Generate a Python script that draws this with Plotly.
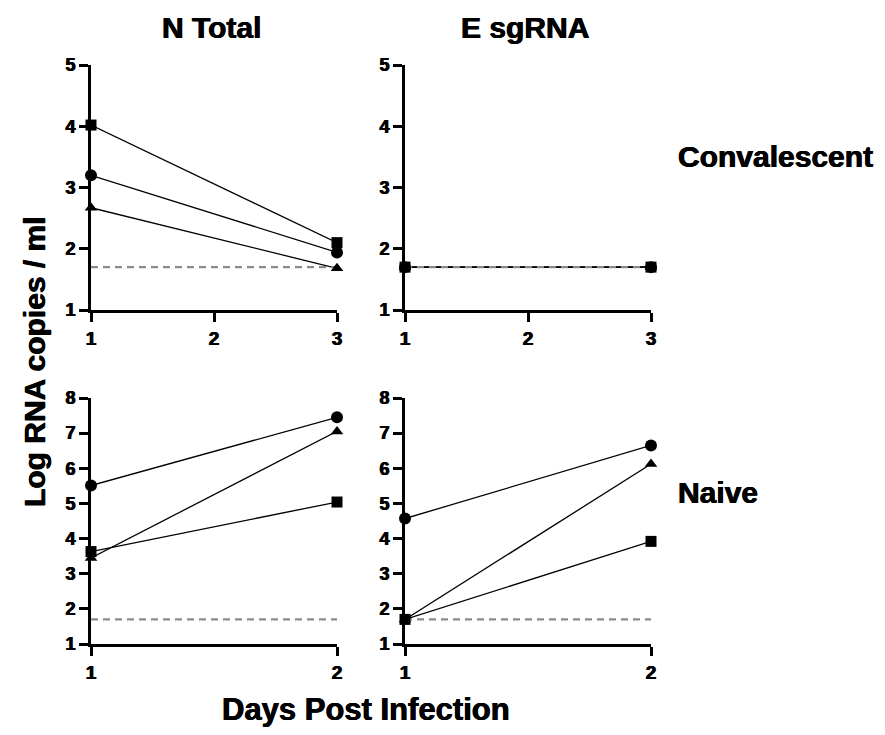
import plotly.graph_objects as go

# ---- data ----
days_conv = [1, 3]
days_naive = [1, 2]
lod = 1.7

# N Total, Convalescent
nt_conv_square = [4.02, 2.10]
nt_conv_circle = [3.20, 1.94]
nt_conv_triangle = [2.67, 1.68]
# E sgRNA, Convalescent
es_conv_square = [1.70, 1.70]
es_conv_circle = [1.70, 1.70]
es_conv_triangle = [1.70, 1.70]
# N Total, Naive
nt_naive_circle = [5.51, 7.45]
nt_naive_triangle = [3.45, 7.05]
nt_naive_square = [3.63, 5.04]
# E sgRNA, Naive
es_naive_circle = [4.57, 6.65]
es_naive_triangle = [1.70, 6.12]
es_naive_square = [1.70, 3.92]

col_titles = ["N Total", "E sgRNA"]
row_titles = ["Convalescent", "Naive"]
y_title = "Log RNA copies / ml"
x_title = "Days Post Infection"

W, H = 885, 735
BOLD = "Liberation Sans"
HEAVY = "0.45px 0 0 black, -0.45px 0 0 black"

fig = go.Figure()

panels = [
    ("x", "y", days_conv, [("square", nt_conv_square), ("circle", nt_conv_circle), ("triangle-up", nt_conv_triangle)]),
    ("x2", "y2", days_conv, [("triangle-up", es_conv_triangle), ("circle", es_conv_circle), ("square", es_conv_square)]),
    ("x3", "y3", days_naive, [("circle", nt_naive_circle), ("triangle-up", nt_naive_triangle), ("square", nt_naive_square)]),
    ("x4", "y4", days_naive, [("circle", es_naive_circle), ("triangle-up", es_naive_triangle), ("square", es_naive_square)]),
]

for xa, ya, days, series in panels:
    for sym, vals in series:
        fig.add_trace(go.Scatter(
            x=days, y=vals, xaxis=xa, yaxis=ya, mode="lines",
            line=dict(color="black", width=1.3), showlegend=False,
            hoverinfo="skip", cliponaxis=False))
    fig.add_trace(go.Scatter(
        x=days, y=[lod] * len(days), xaxis=xa, yaxis=ya, mode="lines",
        line=dict(color="#8a8a8a", width=2.4, dash="7px,5px"), showlegend=False,
        hoverinfo="skip", cliponaxis=False))
    for sym, vals in series:
        size = 12 if sym == "circle" else 11
        fig.add_trace(go.Scatter(
            x=days, y=vals, xaxis=xa, yaxis=ya, mode="markers",
            marker=dict(symbol=sym, size=size, color="black"),
            showlegend=False, cliponaxis=False))

def px_x(a, b):
    return [a / W, b / W]

def px_y(top, bottom):
    return [1 - bottom / H, 1 - top / H]

xdom_l = px_x(91, 337)
xdom_r = px_x(405, 651)
ydom_t = px_y(65, 310)
ydom_b = px_y(398, 644)

fig.update_layout(
    template="none",
    width=W, height=H, margin=dict(l=0, r=0, t=0, b=0, autoexpand=False),
    paper_bgcolor="white", plot_bgcolor="white",
    font=dict(family=BOLD, color="black", weight="bold", size=18),
    xaxis=dict(domain=xdom_l, range=[1, 3], anchor="y"),
    yaxis=dict(domain=ydom_t, range=[1, 5], anchor="x"),
    xaxis2=dict(domain=xdom_r, range=[1, 3], anchor="y2"),
    yaxis2=dict(domain=ydom_t, range=[1, 5], anchor="x2"),
    xaxis3=dict(domain=xdom_l, range=[1, 2], anchor="y3"),
    yaxis3=dict(domain=ydom_b, range=[1, 8], anchor="x3"),
    xaxis4=dict(domain=xdom_r, range=[1, 2], anchor="y4"),
    yaxis4=dict(domain=ydom_b, range=[1, 8], anchor="x4"),
)
axis_style = dict(showline=True, linecolor="black", linewidth=2.8, ticks="outside",
                  ticklen=9, tickwidth=2.8, tickcolor="black", showgrid=False,
                  zeroline=False, dtick=1, tick0=1)
fig.update_xaxes(**axis_style, tickfont=dict(family=BOLD, size=19, weight="bold",
                                             color="black", shadow=HEAVY))
fig.update_yaxes(**axis_style, tickfont=dict(family=BOLD, size=18, weight="bold",
                                             color="black", shadow=HEAVY))

ann = []
tf = dict(family=BOLD, size=30, color="black", weight="bold", shadow=HEAVY)
ann.append(dict(text=col_titles[0], x=211 / W, y=1 - 28 / H, xref="paper", yref="paper",
                showarrow=False, font=tf, xanchor="center", yanchor="middle"))
ann.append(dict(text=col_titles[1], x=525 / W, y=1 - 28 / H, xref="paper", yref="paper",
                showarrow=False, font=tf, xanchor="center", yanchor="middle"))
ann.append(dict(text=row_titles[0], x=676 / W, y=1 - 156 / H, xref="paper", yref="paper",
                showarrow=False, font=tf, xanchor="left", yanchor="middle"))
ann.append(dict(text=row_titles[1], x=676 / W, y=1 - 492 / H, xref="paper", yref="paper",
                showarrow=False, font=tf, xanchor="left", yanchor="middle"))
ann.append(dict(text=y_title, x=34 / W, y=1 - 362 / H, xref="paper", yref="paper",
                showarrow=False, font=tf, textangle=-90, xanchor="center", yanchor="middle"))
ann.append(dict(text=x_title, x=366 / W, y=1 - 709 / H, xref="paper", yref="paper",
                showarrow=False, font=dict(tf, size=31),
                xanchor="center", yanchor="middle"))
fig.update_layout(annotations=ann)

fig.write_html("out.html")
